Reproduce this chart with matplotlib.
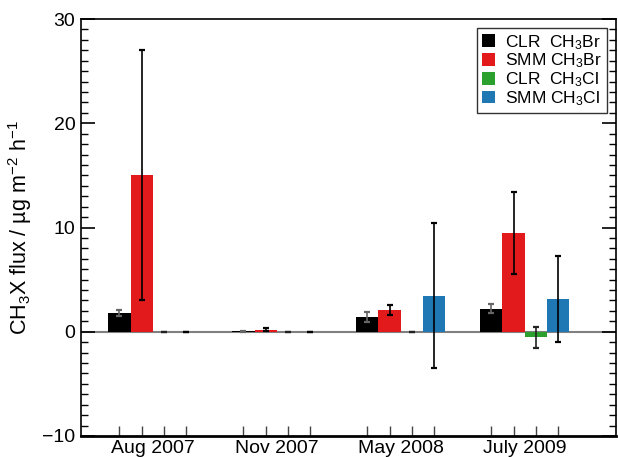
import matplotlib
matplotlib.use("Agg")
import matplotlib.pyplot as plt
from matplotlib.ticker import MultipleLocator, FixedLocator, NullFormatter
import numpy as np

plt.rcParams['font.family'] = ['Liberation Sans', 'DejaVu Sans']
plt.rcParams['mathtext.fontset'] = 'custom'
plt.rcParams['mathtext.rm'] = 'Liberation Sans'
plt.rcParams['mathtext.it'] = 'Liberation Sans:italic'
plt.rcParams['mathtext.default'] = 'regular'

campaigns = ["Aug 2007", "Nov 2007", "May 2008", "July 2009"]
series = ["CLR  CH$_3$Br", "SMM CH$_3$Br", "CLR  CH$_3$Cl", "SMM CH$_3$Cl"]
values = {
    "CLR  CH$_3$Br": [1.8, 0.05, 1.43, 2.2],
    "SMM CH$_3$Br": [15.0, 0.2, 2.1, 9.45],
    "CLR  CH$_3$Cl": [0.0, 0.0, 0.0, -0.55],
    "SMM CH$_3$Cl": [0.0, 0.0, 3.45, 3.15],
}
errors = {
    "CLR  CH$_3$Br": [0.32, 0.03, 0.45, 0.43],
    "SMM CH$_3$Br": [12.0, 0.15, 0.48, 3.95],
    "CLR  CH$_3$Cl": [0.0, 0.0, 0.0, 1.05],
    "SMM CH$_3$Cl": [0.0, 0.0, 6.95, 4.1],
}
colors = ["#000000", "#e31a1c", "#2ca02c", "#1f77b4"]
err_colors = ["#666666", "#000000", "#222222", "#000000"]

group_step = 5.56
fig = plt.figure(figsize=(6.18, 4.57), dpi=100)
ax = fig.add_axes([81/618, (457-436)/457, (616-81)/618, (436-19)/457])

ax.axhline(0, color="#808080", lw=1.5, zorder=1)

bar_pos = []
for i, s in enumerate(series):
    x = np.arange(len(campaigns)) * group_step + i
    bar_pos.extend(x)
    ax.bar(x, values[s], width=1.0, color=colors[i], label=s, zorder=2)
    ax.errorbar(x, values[s], yerr=errors[s], fmt='none', ecolor=err_colors[i],
                elinewidth=1.2, capsize=2.5, capthick=1.6, zorder=3)

ax.set_xlim(-1.72, 22.27)
ax.set_ylim(-10, 30)
ax.yaxis.set_major_locator(MultipleLocator(10))
ax.yaxis.set_minor_locator(MultipleLocator(1))
ax.tick_params(axis='y', which='major', direction='in', length=10, width=1.2,
               left=True, right=True, labelsize=14, pad=4)
ax.tick_params(axis='y', which='minor', direction='in', length=5, width=1.0,
               left=True, right=True)

ax.xaxis.set_major_locator(FixedLocator(sorted(bar_pos)))
ax.xaxis.set_major_formatter(NullFormatter())
centers = np.arange(len(campaigns)) * group_step + 1.5
ax.xaxis.set_minor_locator(FixedLocator(centers))
ax.set_xticklabels(campaigns, minor=True)
ax.tick_params(axis='x', which='major', direction='in', length=7, width=1.0,
               color="#444444", top=False)
ax.tick_params(axis='x', which='minor', length=0, labelsize=14, pad=3)

for side in ['left', 'right', 'top']:
    ax.spines[side].set_linewidth(1.2)
ax.spines['bottom'].set_linewidth(2.0)

ax.set_ylabel("CH$_3$X flux / µg m$^{-2}$ h$^{-1}$", fontsize=15.5, labelpad=6)

leg = ax.legend(loc='upper right', fontsize=12.5, frameon=True, fancybox=False,
                edgecolor='black', handlelength=0.75, handleheight=0.75,
                handletextpad=0.6, borderaxespad=0.5, labelspacing=0.0,
                borderpad=0.3)
leg.get_frame().set_linewidth(1.0)

fig.savefig("out.png", dpi=100)
